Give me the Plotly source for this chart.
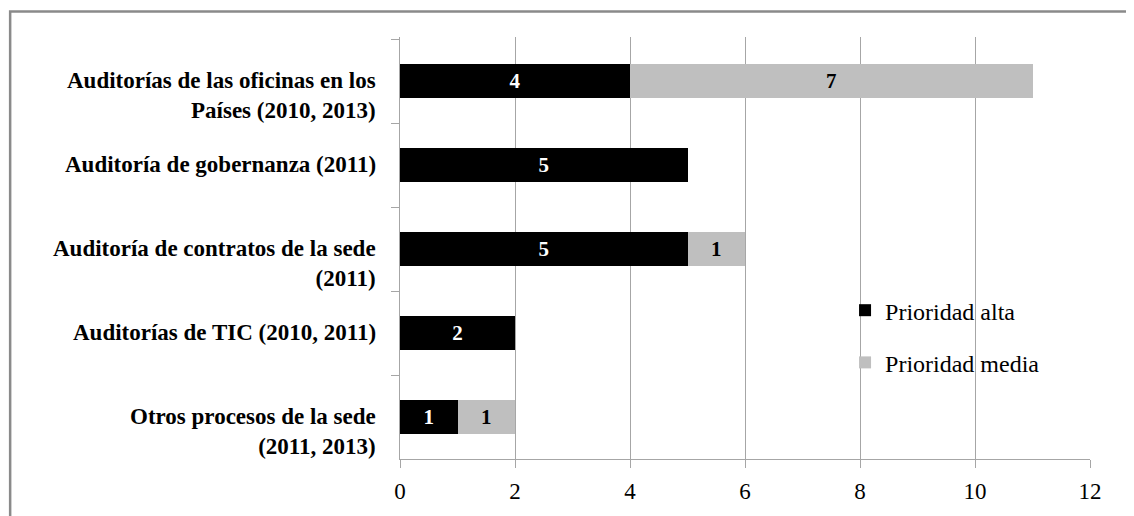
import plotly.graph_objects as go

SERIF = "Liberation Serif"
GRID_GREY = "#A6A6A6"
BORDER_GREY = "#8A8A8A"

categories = [
    "Auditorías de las oficinas en los<br>Países (2010, 2013)",
    "Auditoría de gobernanza (2011)",
    "Auditoría de contratos de la sede<br>(2011)",
    "Auditorías de TIC (2010, 2011)",
    "Otros procesos de la sede<br>(2011, 2013)",
]
prioridad_alta = [4, 5, 5, 2, 1]
prioridad_media = [7, None, 1, None, 1]
x_ticks = [0, 2, 4, 6, 8, 10, 12]

fig = go.Figure()

series = [
    ("Prioridad alta", prioridad_alta, "#000000", "#FFFFFF"),
    ("Prioridad media", prioridad_media, "#BFBFBF", "#000000"),
]
for name, values, color, text_color in series:
    fig.add_trace(
        go.Bar(
            name=name,
            y=categories,
            x=values,
            orientation="h",
            marker=dict(color=color, line_width=0),
            text=[None if v is None else str(v) for v in values],
            textposition="inside",
            insidetextanchor="middle",
            textangle=0,
            textfont=dict(family=SERIF, size=21, color=text_color, weight="bold"),
            legendgroup=name,
            hoverinfo="skip",
        )
    )

# category labels: first line sits level with the bar, wrapped lines hang below
for cat in categories:
    fig.add_annotation(
        text=cat,
        xref="paper",
        x=0,
        xanchor="right",
        xshift=-22,
        yref="y",
        y=cat,
        yanchor="top",
        yshift=15,
        align="right",
        showarrow=False,
        font=dict(family=SERIF, size=23, color="#000000", weight="bold"),
    )

# the page body adds an 8px offset, so the figure is 8px smaller than the window
fig.update_layout(
    width=1126,
    height=508,
    margin=dict(l=392, r=44, t=29, b=51),
    barmode="stack",
    bargap=0.6,
    plot_bgcolor="white",
    paper_bgcolor="white",
    font=dict(family=SERIF, color="#000000"),
    showlegend=True,
    legend=dict(
        x=0.645,
        y=0.405,
        xanchor="left",
        yanchor="top",
        traceorder="grouped",
        tracegroupgap=18,
        font=dict(family=SERIF, size=24, color="#000000"),
        bgcolor="rgba(0,0,0,0)",
        itemwidth=30,
    ),
    shapes=[
        # chart area border (only top and left edges fall inside the picture)
        dict(
            type="rect",
            xref="paper",
            yref="paper",
            x0=-0.565,
            x1=1.08,
            y0=-0.2,
            y1=1.0607,
            line=dict(color=BORDER_GREY, width=2.5),
            fillcolor="rgba(0,0,0,0)",
            layer="below",
        )
    ],
)

fig.update_xaxes(
    range=[0, 12],
    tickvals=x_ticks,
    showgrid=True,
    gridcolor=GRID_GREY,
    gridwidth=1,
    showline=True,
    linecolor=GRID_GREY,
    linewidth=1,
    ticks="outside",
    ticklen=8,
    tickcolor=GRID_GREY,
    ticklabelstandoff=3,
    tickfont=dict(family=SERIF, size=23, color="#000000"),
    zeroline=False,
)

fig.update_yaxes(
    categoryorder="array",
    categoryarray=categories,
    autorange="reversed",
    showgrid=False,
    showline=True,
    linecolor=GRID_GREY,
    linewidth=1,
    ticks="outside",
    tickson="boundaries",
    ticklen=8,
    tickcolor=GRID_GREY,
    showticklabels=False,
)

fig.write_html("out.html")
